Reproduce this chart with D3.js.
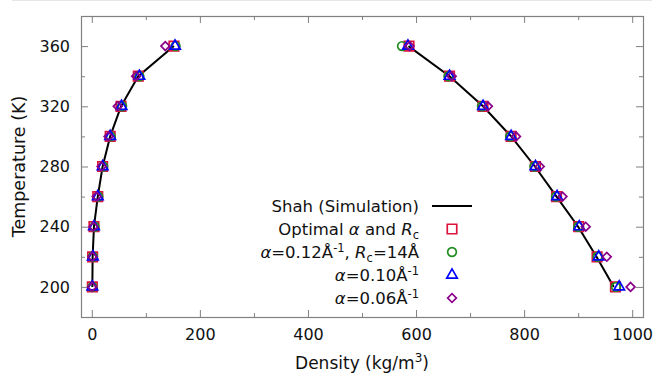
<!DOCTYPE html>
<html>
<head>
  <meta charset="utf-8">
  <title>Density vs Temperature</title>
  <style>
    body { margin: 0; background: #fff; }
    svg { display: block; font-family: "DejaVu Sans", sans-serif; }
  </style>
</head>
<body>
  <svg id="chart"></svg>
  <script src="https://cdnjs.cloudflare.com/ajax/libs/d3/7.8.5/d3.min.js"></script>
  <script>
    // temperatures (K)
    const temps = [200, 220, 240, 260, 280, 300, 320, 340, 360];

    // Shah simulation, vapour and liquid branch (kg/m3)
    const shahVapour = [1, 1.5, 4, 11, 20, 34, 54, 86, 152];
    const shahLiquid = [966, 934, 900, 860, 820, 776, 724, 662, 586];

    // optimal alpha and Rc
    const optVapour = [1, 1.5, 4, 11, 20, 34, 54, 86, 152];
    const optLiquid = [969, 935, 901, 860, 821, 776, 724, 662, 587];

    // alpha = 0.12, Rc = 14
    const a012Vapour = [1, 2, 5, 12, 21, 35, 56, 88, 155];
    const a012Liquid = [970, 936, 900, 859, 819, 774, 722, 660, 574];

    // alpha = 0.10
    const a010Vapour = [1, 2, 4, 11, 20, 34, 55, 88, 154];
    const a010Liquid = [976, 938, 902, 861, 821, 776, 724, 662, 585];

    // alpha = 0.06
    const a006Vapour = [0.5, 1, 3, 9, 18, 31, 48, 82, 136];
    const a006Liquid = [997, 953, 914, 871, 829, 785, 733, 666, 588];

    const xTicks = [0, 200, 400, 600, 800, 1000];
    const yTicks = [200, 240, 280, 320, 360];

    const W = 655, H = 375;
    const m = { left: 81, right: 12, top: 16, bottom: 58 };

    const svg = d3.select("#chart").attr("width", W).attr("height", H);

    // faint rule along the top edge of the original figure
    svg.append("line")
      .attr("x1", 12).attr("x2", 652).attr("y1", 0.5).attr("y2", 0.5)
      .attr("stroke", "#e6e6e6");

    const x = d3.scaleLinear().domain([-20, 1020]).range([m.left, W - m.right]);
    const y = d3.scaleLinear().domain([180, 380]).range([H - m.bottom, m.top]);

    const frameColor = "#808080";

    /** ticks on all four sides, pointing inward */
    function ticks(axisGen, tx, ty, vals, size) {
      const g = svg.append("g").attr("transform", `translate(${tx},${ty})`)
        .call(axisGen.tickValues(vals).tickSize(size).tickFormat(""));
      g.select(".domain").remove();
      g.selectAll("line").attr("stroke", frameColor);
      return g;
    }
    const xMinor = [100, 300, 500, 700, 900];
    const yMinor = [220, 260, 300, 340];
    const bottom = H - m.bottom, right = W - m.right;
    ticks(d3.axisTop(x), 0, bottom, xTicks, 7);
    ticks(d3.axisTop(x), 0, bottom, xMinor, 4);
    ticks(d3.axisBottom(x), 0, m.top, xTicks, 7);
    ticks(d3.axisBottom(x), 0, m.top, xMinor, 4);
    ticks(d3.axisRight(y), m.left, 0, yTicks, 7);
    ticks(d3.axisRight(y), m.left, 0, yMinor, 4);
    ticks(d3.axisLeft(y), right, 0, yTicks, 7);
    ticks(d3.axisLeft(y), right, 0, yMinor, 4);

    // tick labels
    const gx = svg.append("g").attr("transform", `translate(0,${bottom})`)
      .call(d3.axisBottom(x).tickValues(xTicks).tickFormat(d3.format("d")).tickSize(0).tickPadding(12));
    gx.select(".domain").remove();
    gx.selectAll("text").attr("font-size", 16).attr("fill", "#111").attr("font-family", "DejaVu Sans");

    const gy = svg.append("g").attr("transform", `translate(${m.left},0)`)
      .call(d3.axisLeft(y).tickValues(yTicks).tickSize(0).tickPadding(11));
    gy.select(".domain").remove();
    gy.selectAll("text").attr("font-size", 16).attr("fill", "#111").attr("font-family", "DejaVu Sans");

    // frame
    svg.append("rect")
      .attr("x", m.left + 0.5).attr("y", m.top + 0.5)
      .attr("width", right - m.left).attr("height", bottom - m.top)
      .attr("fill", "none").attr("stroke", frameColor).attr("stroke-width", 1.2);

    // axis titles
    const xt = svg.append("text")
      .attr("x", (m.left + right) / 2).attr("y", 369)
      .attr("text-anchor", "middle").attr("font-size", 17).attr("fill", "#111")
      .text("Density (kg/m");
    xt.append("tspan").attr("dy", -7).attr("font-size", 12).text("3");
    xt.append("tspan").attr("dy", 7).text(")");

    svg.append("text")
      .attr("transform", `translate(25,${(m.top + bottom) / 2}) rotate(-90)`)
      .attr("text-anchor", "middle").attr("font-size", 17.5).attr("fill", "#111")
      .text("Temperature (K)");

    // simulation lines
    const line = d3.line().x(d => x(d[0])).y(d => y(d[1]));
    [shahVapour, shahLiquid].forEach(arr => {
      svg.append("path")
        .datum(arr.map((v, i) => [v, temps[i]]))
        .attr("d", line)
        .attr("fill", "none").attr("stroke", "#000").attr("stroke-width", 2);
    });

    // marker series
    const series = [
      { vap: optVapour, liq: optLiquid, color: "#dc143c", shape: d3.symbolSquare, size: 90, rot: 0 },
      { vap: a012Vapour, liq: a012Liquid, color: "#228b22", shape: d3.symbolCircle, size: 60, rot: 0 },
      { vap: a010Vapour, liq: a010Liquid, color: "#0000ff", shape: d3.symbolTriangle, size: 48, rot: 0 },
      { vap: a006Vapour, liq: a006Liquid, color: "#8b008b", shape: d3.symbolSquare, size: 38, rot: 45 }
    ];

    series.forEach(s => {
      const pts = temps.map((t, i) => [s.vap[i], t]).concat(temps.map((t, i) => [s.liq[i], t]));
      svg.append("g").selectAll("path")
        .data(pts)
        .join("path")
        .attr("d", d3.symbol().type(s.shape).size(s.size))
        .attr("transform", d => `translate(${x(d[0])},${y(d[1])}) rotate(${s.rot})`)
        .attr("fill", "none").attr("stroke", s.color).attr("stroke-width", 1.7);
    });

    // legend
    const legX = 419, legSym = 452, legY0 = 206, legDy = 23;
    const legend = svg.append("g").attr("font-size", 16.5).attr("fill", "#111");

    function row(i) {
      return legend.append("text").attr("x", legX).attr("y", legY0 + i * legDy)
        .attr("text-anchor", "end").attr("dy", "0.35em");
    }
    row(0).text("Shah (Simulation)");
    legend.append("line")
      .attr("x1", 432).attr("x2", 472).attr("y1", legY0).attr("y2", legY0)
      .attr("stroke", "#000").attr("stroke-width", 2);

    let t = row(1);
    t.append("tspan").text("Optimal ");
    t.append("tspan").attr("font-style", "italic").text("α");
    t.append("tspan").text(" and ");
    t.append("tspan").attr("font-style", "italic").text("R");
    t.append("tspan").attr("font-size", 11.5).attr("dy", 4).text("c");

    t = row(2);
    t.append("tspan").attr("font-style", "italic").text("α");
    t.append("tspan").text("=0.12Å");
    t.append("tspan").attr("font-size", 11.5).attr("dy", -6).text("-1");
    t.append("tspan").attr("dy", 6).text(", ");
    t.append("tspan").attr("font-style", "italic").text("R");
    t.append("tspan").attr("font-size", 11.5).attr("dy", 4).text("c");
    t.append("tspan").attr("dy", -4).text("=14Å");

    t = row(3);
    t.append("tspan").attr("font-style", "italic").text("α");
    t.append("tspan").text("=0.10Å");
    t.append("tspan").attr("font-size", 11.5).attr("dy", -6).text("-1");

    t = row(4);
    t.append("tspan").attr("font-style", "italic").text("α");
    t.append("tspan").text("=0.06Å");
    t.append("tspan").attr("font-size", 11.5).attr("dy", -6).text("-1");

    series.forEach((s, i) => {
      legend.append("path")
        .attr("d", d3.symbol().type(s.shape).size(s.size))
        .attr("transform", `translate(${legSym},${legY0 + (i + 1) * legDy}) rotate(${s.rot})`)
        .attr("fill", "none").attr("stroke", s.color).attr("stroke-width", 1.7);
    });
  </script>
</body>
</html>
